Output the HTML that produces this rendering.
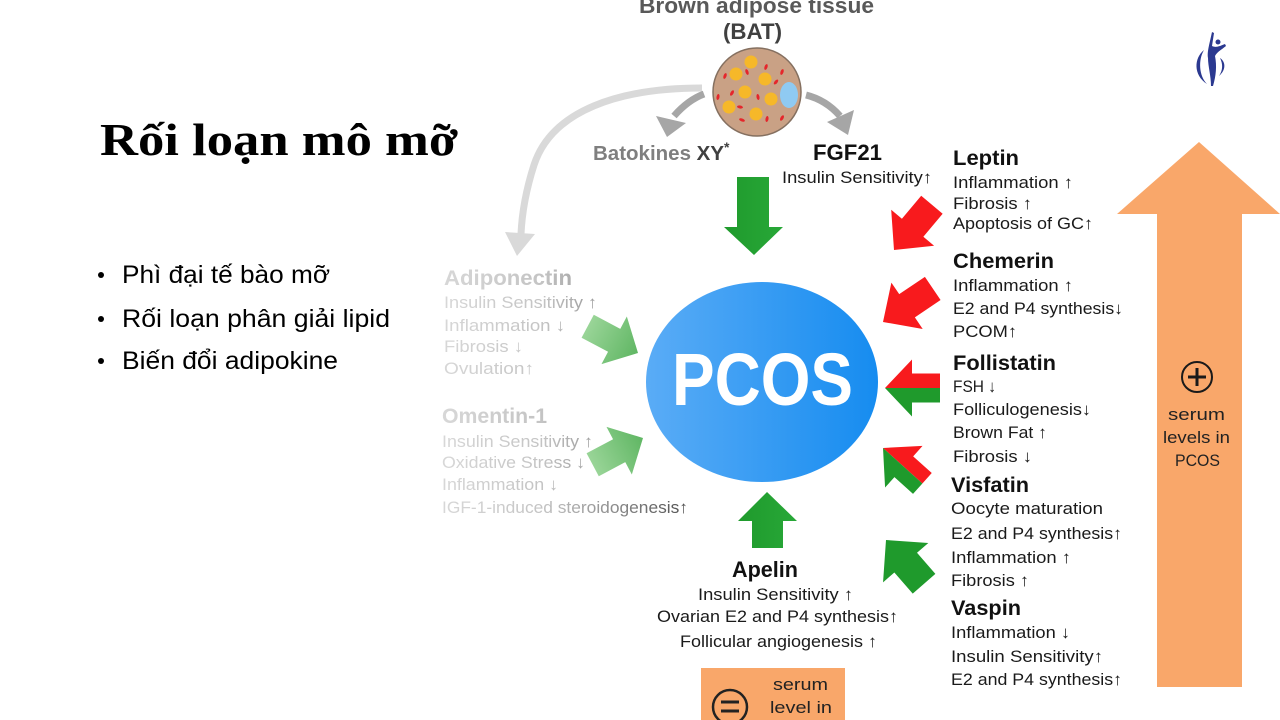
<!DOCTYPE html>
<html>
<head>
<meta charset="utf-8">
<style>
html,body{margin:0;padding:0;background:#fff;}
body{width:1280px;height:720px;overflow:hidden;position:relative;}
svg{position:absolute;left:0;top:0;}
.s{font-family:"Liberation Sans",Arial,sans-serif;}
.b{font-family:"Liberation Sans",Arial,sans-serif;font-weight:bold;}
</style>
</head>
<body>
<svg width="1280" height="720" viewBox="0 0 1280 720" xmlns="http://www.w3.org/2000/svg">
<defs>
  <linearGradient id="pc" x1="0" y1="0" x2="1" y2="0">
    <stop offset="0" stop-color="#5aacf6"/>
    <stop offset="1" stop-color="#168cf0"/>
  </linearGradient>
  <linearGradient id="gray" gradientUnits="userSpaceOnUse" x1="440" y1="0" x2="695" y2="0">
    <stop offset="0" stop-color="#d8d8d8"/>
    <stop offset="0.4" stop-color="#c4c4c4"/>
    <stop offset="0.62" stop-color="#9a9a9a"/>
    <stop offset="1" stop-color="#4a4a4a"/>
  </linearGradient>
  <linearGradient id="lg" x1="0" y1="0" x2="1" y2="0">
    <stop offset="0" stop-color="#8ed08c"/>
    <stop offset="1" stop-color="#4eae52"/>
  </linearGradient>
  <linearGradient id="dg" x1="0" y1="0" x2="1" y2="0">
    <stop offset="0" stop-color="#1f9a2c"/>
    <stop offset="1" stop-color="#28a838"/>
  </linearGradient>
</defs>

<!-- Title -->
<text x="100" y="155" font-family="'Liberation Serif','Times New Roman',serif" font-weight="bold" font-size="45" fill="#000" textLength="358" lengthAdjust="spacingAndGlyphs">Rối loạn mô mỡ</text>

<!-- Bullets -->
<circle cx="101" cy="275" r="3" fill="#000"/>
<circle cx="101" cy="319" r="3" fill="#000"/>
<circle cx="101" cy="361" r="3" fill="#000"/>
<text class="s" x="122" y="283" font-size="25" fill="#000" textLength="208" lengthAdjust="spacingAndGlyphs">Phì đại tế bào mỡ</text>
<text class="s" x="122" y="327" font-size="25" fill="#000" textLength="268" lengthAdjust="spacingAndGlyphs">Rối loạn phân giải lipid</text>
<text class="s" x="122" y="369" font-size="25" fill="#000" textLength="216" lengthAdjust="spacingAndGlyphs">Biến đổi adipokine</text>

<!-- BAT header -->
<text class="b" x="639" y="13" font-size="22" fill="#595959" textLength="235" lengthAdjust="spacingAndGlyphs">Brown adipose tissue</text>
<text class="b" x="723" y="39" font-size="22" fill="#404040" textLength="59" lengthAdjust="spacingAndGlyphs">(BAT)</text>

<!-- big light curve -->
<path d="M702 88 C620 88 552 110 534 165 C526 190 522 212 521 234" fill="none" stroke="#d9d9d9" stroke-width="7"/>
<polygon points="517,256 505,232 535,234" fill="#d9d9d9"/>

<!-- gray arrows -->
<path d="M704 94 Q688 100 674 116" fill="none" stroke="#a6a6a6" stroke-width="7"/>
<polygon points="667,137 656,116 686,123" fill="#a6a6a6"/>
<path d="M806 95 Q826 100 840 116" fill="none" stroke="#a6a6a6" stroke-width="7"/>
<polygon points="848,135 827,122 854,110" fill="#a6a6a6"/>

<!-- BAT circle -->
<circle cx="757" cy="92" r="44" fill="#c9a185" stroke="#857060" stroke-width="1.5"/>
<g fill="#f6b829">
  <circle cx="751" cy="62" r="6.5"/>
  <circle cx="736" cy="74" r="6.5"/>
  <circle cx="765" cy="79" r="6.5"/>
  <circle cx="745" cy="92" r="6.5"/>
  <circle cx="771" cy="99" r="6.5"/>
  <circle cx="729" cy="107" r="6.5"/>
  <circle cx="756" cy="114" r="6.5"/>
</g>
<ellipse cx="789" cy="95" rx="9" ry="13" fill="#8fcaf2"/>
<g fill="#e5262b">
  <ellipse cx="766" cy="67" rx="1.5" ry="3" transform="rotate(20 766 67)"/>
  <ellipse cx="725" cy="76" rx="1.5" ry="3" transform="rotate(20 725 76)"/>
  <ellipse cx="747" cy="72" rx="1.5" ry="3" transform="rotate(-20 747 72)"/>
  <ellipse cx="782" cy="72" rx="1.5" ry="3" transform="rotate(20 782 72)"/>
  <ellipse cx="776" cy="82" rx="1.5" ry="3" transform="rotate(40 776 82)"/>
  <ellipse cx="732" cy="93" rx="1.5" ry="3" transform="rotate(30 732 93)"/>
  <ellipse cx="758" cy="97" rx="1.5" ry="3" transform="rotate(-10 758 97)"/>
  <ellipse cx="718" cy="97" rx="1.5" ry="3" transform="rotate(10 718 97)"/>
  <ellipse cx="740" cy="107" rx="3" ry="1.5" transform="rotate(10 740 107)"/>
  <ellipse cx="767" cy="119" rx="1.5" ry="3" transform="rotate(10 767 119)"/>
  <ellipse cx="742" cy="120" rx="3" ry="1.5" transform="rotate(20 742 120)"/>
  <ellipse cx="782" cy="118" rx="1.5" ry="3" transform="rotate(30 782 118)"/>
</g>

<!-- Batokines / FGF21 -->
<text class="b" x="593" y="160" font-size="20.5" fill="#7f7f7f">Batokines <tspan fill="#404040">XY</tspan><tspan fill="#404040" dy="-8" font-size="14">*</tspan></text>
<text class="b" x="813" y="160" font-size="22" fill="#111" textLength="69" lengthAdjust="spacingAndGlyphs">FGF21</text>
<text class="s" x="782" y="183" font-size="17" fill="#1a1a1a" textLength="150" lengthAdjust="spacingAndGlyphs">Insulin Sensitivity↑</text>

<!-- FGF21 down arrow -->
<polygon points="737,177 769,177 769,227 783,227 754,255 724,227 737,227" fill="url(#dg)"/>

<!-- PCOS -->
<ellipse cx="762" cy="382" rx="116" ry="100" fill="url(#pc)"/>
<text class="b" x="672" y="405" font-size="74" fill="#fff" textLength="181" lengthAdjust="spacingAndGlyphs">PCOS</text>

<!-- Apelin up arrow -->
<polygon points="767,492 797,521 783,521 783,548 752,548 752,521 738,521" fill="url(#dg)"/>

<!-- Left light arrows -->
<g transform="translate(638 353) rotate(28)" opacity="0.9">
  <polygon points="0,0 -27,-27 -27,-13 -57,-13 -57,13 -27,13 -27,27" fill="url(#lg)"/>
</g>
<g transform="translate(643 438) rotate(-28)" opacity="0.9">
  <polygon points="0,0 -27,-27 -27,-13 -57,-13 -57,13 -27,13 -27,27" fill="url(#lg)"/>
</g>

<!-- Right arrows -->
<g transform="translate(894 250) rotate(130)">
  <polygon points="0,0 -29,-28 -29,-14 -59,-14 -59,14 -29,14 -29,28" fill="#f81a1d"/>
</g>
<g transform="translate(883 322) rotate(146)">
  <polygon points="0,0 -29,-28 -29,-14 -60,-14 -60,14 -29,14 -29,28" fill="#f81a1d"/>
</g>
<g transform="translate(885 388) rotate(180)">
  <polygon points="0,0 -27,28.5 -27,14.5 -55,14.5 -55,0" fill="#f81a1d"/>
  <polygon points="0,0 -27,-28.5 -27,-14.5 -55,-14.5 -55,0" fill="#1f9a2c"/>
</g>
<g transform="translate(883 448) rotate(222)">
  <polygon points="0,0 -28,28 -28,14 -53,14 -53,0" fill="#f81a1d"/>
  <polygon points="0,0 -28,-28 -28,-14 -53,-14 -53,0" fill="#1f9a2c"/>
</g>
<g transform="translate(886 540) rotate(229)">
  <polygon points="0,0 -30,-30 -30,-15 -58,-15 -58,15 -30,15 -30,30" fill="#1f9a2c"/>
</g>

<!-- Left gray texts -->
<g fill="url(#gray)">
  <text class="b" x="444" y="285" font-size="21" textLength="128" lengthAdjust="spacingAndGlyphs">Adiponectin</text>
  <text class="s" x="444" y="308" font-size="17" textLength="153" lengthAdjust="spacingAndGlyphs">Insulin Sensitivity ↑</text>
  <text class="s" x="444" y="331" font-size="17" textLength="121" lengthAdjust="spacingAndGlyphs">Inflammation ↓</text>
  <text class="s" x="444" y="352" font-size="17" textLength="79" lengthAdjust="spacingAndGlyphs">Fibrosis ↓</text>
  <text class="s" x="444" y="374" font-size="17" textLength="90" lengthAdjust="spacingAndGlyphs">Ovulation↑</text>
  <text class="b" x="442" y="423" font-size="21" textLength="105" lengthAdjust="spacingAndGlyphs">Omentin-1</text>
  <text class="s" x="442" y="447" font-size="17" textLength="151" lengthAdjust="spacingAndGlyphs">Insulin Sensitivity ↑</text>
  <text class="s" x="442" y="468" font-size="17" textLength="143" lengthAdjust="spacingAndGlyphs">Oxidative Stress ↓</text>
  <text class="s" x="442" y="490" font-size="17" textLength="116" lengthAdjust="spacingAndGlyphs">Inflammation ↓</text>
  <text class="s" x="442" y="513" font-size="17" textLength="246" lengthAdjust="spacingAndGlyphs">IGF-1-induced steroidogenesis↑</text>
</g>

<!-- Right texts -->
<g fill="#1a1a1a">
  <text class="b" x="953" y="165" font-size="21" fill="#111" textLength="66" lengthAdjust="spacingAndGlyphs">Leptin</text>
  <text class="s" x="953" y="188" font-size="17" textLength="120" lengthAdjust="spacingAndGlyphs">Inflammation ↑</text>
  <text class="s" x="953" y="209" font-size="17" textLength="79" lengthAdjust="spacingAndGlyphs">Fibrosis ↑</text>
  <text class="s" x="953" y="229" font-size="17" textLength="140" lengthAdjust="spacingAndGlyphs">Apoptosis of GC↑</text>

  <text class="b" x="953" y="268" font-size="21" fill="#111" textLength="101" lengthAdjust="spacingAndGlyphs">Chemerin</text>
  <text class="s" x="953" y="291" font-size="17" textLength="120" lengthAdjust="spacingAndGlyphs">Inflammation ↑</text>
  <text class="s" x="953" y="314" font-size="17" textLength="170" lengthAdjust="spacingAndGlyphs">E2 and P4 synthesis↓</text>
  <text class="s" x="953" y="337" font-size="17" textLength="64" lengthAdjust="spacingAndGlyphs">PCOM↑</text>

  <text class="b" x="953" y="370" font-size="21" fill="#111" textLength="103" lengthAdjust="spacingAndGlyphs">Follistatin</text>
  <text class="s" x="953" y="392" font-size="17" textLength="43" lengthAdjust="spacingAndGlyphs">FSH ↓</text>
  <text class="s" x="953" y="415" font-size="17" textLength="138" lengthAdjust="spacingAndGlyphs">Folliculogenesis↓</text>
  <text class="s" x="953" y="438" font-size="17" textLength="94" lengthAdjust="spacingAndGlyphs">Brown Fat ↑</text>
  <text class="s" x="953" y="462" font-size="17" textLength="79" lengthAdjust="spacingAndGlyphs">Fibrosis ↓</text>

  <text class="b" x="951" y="492" font-size="21" fill="#111" textLength="78" lengthAdjust="spacingAndGlyphs">Visfatin</text>
  <text class="s" x="951" y="514" font-size="17" textLength="152" lengthAdjust="spacingAndGlyphs">Oocyte maturation</text>
  <text class="s" x="951" y="539" font-size="17" textLength="171" lengthAdjust="spacingAndGlyphs">E2 and P4 synthesis↑</text>
  <text class="s" x="951" y="563" font-size="17" textLength="120" lengthAdjust="spacingAndGlyphs">Inflammation ↑</text>
  <text class="s" x="951" y="586" font-size="17" textLength="78" lengthAdjust="spacingAndGlyphs">Fibrosis ↑</text>

  <text class="b" x="951" y="615" font-size="21" fill="#111" textLength="70" lengthAdjust="spacingAndGlyphs">Vaspin</text>
  <text class="s" x="951" y="638" font-size="17" textLength="119" lengthAdjust="spacingAndGlyphs">Inflammation ↓</text>
  <text class="s" x="951" y="662" font-size="17" textLength="152" lengthAdjust="spacingAndGlyphs">Insulin Sensitivity↑</text>
  <text class="s" x="951" y="685" font-size="17" textLength="171" lengthAdjust="spacingAndGlyphs">E2 and P4 synthesis↑</text>
</g>

<!-- Apelin texts -->
<g fill="#1a1a1a">
  <text class="b" x="732" y="577" font-size="22" fill="#111" textLength="66" lengthAdjust="spacingAndGlyphs">Apelin</text>
  <text class="s" x="698" y="600" font-size="17" textLength="155" lengthAdjust="spacingAndGlyphs">Insulin Sensitivity ↑</text>
  <text class="s" x="657" y="622" font-size="17" textLength="241" lengthAdjust="spacingAndGlyphs">Ovarian E2 and P4 synthesis↑</text>
  <text class="s" x="680" y="647" font-size="17" textLength="197" lengthAdjust="spacingAndGlyphs">Follicular angiogenesis ↑</text>
</g>

<!-- bottom orange box -->
<rect x="701" y="668" width="144" height="60" fill="#f9a76a"/>
<circle cx="730" cy="707" r="17" fill="none" stroke="#222" stroke-width="2.5"/>
<line x1="721" y1="702" x2="739" y2="702" stroke="#222" stroke-width="3"/>
<line x1="721" y1="711" x2="739" y2="711" stroke="#222" stroke-width="3"/>
<text class="s" x="773" y="690" font-size="17" fill="#222" textLength="55" lengthAdjust="spacingAndGlyphs">serum</text>
<text class="s" x="770" y="713" font-size="17" fill="#222" textLength="62" lengthAdjust="spacingAndGlyphs">level in</text>

<!-- big orange arrow -->
<polygon points="1199,142 1280,214 1242,214 1242,687 1157,687 1157,214 1117,214" fill="#f9a76a"/>
<circle cx="1197" cy="377" r="15" fill="none" stroke="#1a1a1a" stroke-width="2"/>
<line x1="1188" y1="377" x2="1206" y2="377" stroke="#1a1a1a" stroke-width="3"/>
<line x1="1197" y1="368" x2="1197" y2="386" stroke="#1a1a1a" stroke-width="3"/>
<text class="s" x="1168" y="420" font-size="17" fill="#222" textLength="57" lengthAdjust="spacingAndGlyphs">serum</text>
<text class="s" x="1163" y="443" font-size="17" fill="#222" textLength="67" lengthAdjust="spacingAndGlyphs">levels in</text>
<text class="s" x="1175" y="466" font-size="17" fill="#222" textLength="45" lengthAdjust="spacingAndGlyphs">PCOS</text>

<!-- logo -->
<g fill="#2b3990">
  <path d="M1204 50 C1194 58 1193 75 1207 84 C1199 76 1198 60 1204 50 Z"/>
  <path d="M1212 32 L1214 33 L1212 46 C1216 48 1220 46 1225 44 L1226 46 C1221 50 1217 52 1215 56 C1217 66 1216 76 1213 86 L1211 86 C1211 76 1208 66 1208 58 C1207 52 1209 46 1212 32 Z"/>
  <circle cx="1218" cy="42" r="2.5"/>
  <path d="M1220 58 C1226 62 1226 70 1219 76 C1223 70 1223 64 1220 58 Z"/>
</g>
</svg>
</body>
</html>
